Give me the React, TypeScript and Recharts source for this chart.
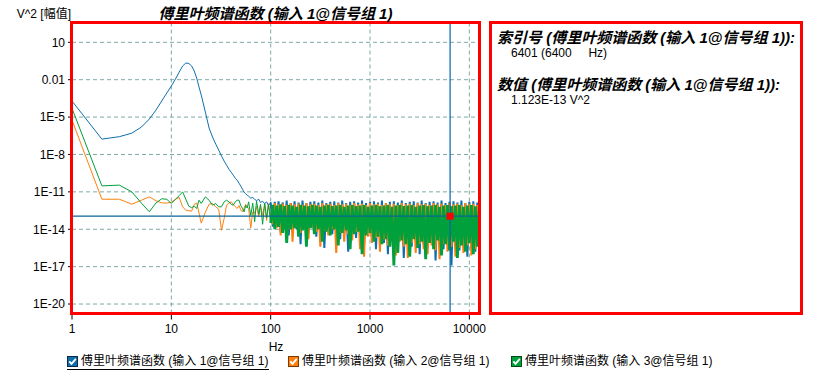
import { LineChart, Line, XAxis, YAxis, CartesianGrid, ReferenceLine, ReferenceDot } from 'recharts';

// every bin up to 20 Hz, then every other bin up to 58 Hz
const lowFreqs = [
  1, 2, 3, 4, 5, 6, 7, 8, 9, 10, 11, 12, 13, 14, 15, 16, 17, 18, 19, 20,
  22, 24, 26, 28, 30, 32, 34, 36, 38, 40, 42, 44, 46, 48, 50, 52, 54, 56, 58,
];

// noise floor, read off at roughly one sample per 2px
const noiseFreqs = [
  60, 63, 66, 69, 72, 76, 79, 83, 87, 91,
  95, 100, 105, 110, 115, 120, 126, 132, 138, 145,
  152, 159, 166, 174, 182, 191, 200, 209, 219, 229,
  240, 251, 263, 275, 288, 302, 316, 331, 347, 363,
  380, 398, 417, 437, 457, 479, 501, 525, 550, 575,
  603, 631, 661, 692, 724, 759, 794, 832, 871, 912,
  955, 1000, 1047, 1096, 1148, 1202, 1259, 1318, 1380, 1445,
  1514, 1585, 1660, 1738, 1820, 1905, 1995, 2089, 2188, 2291,
  2399, 2512, 2630, 2754, 2884, 3020, 3162, 3311, 3467, 3631,
  3802, 3981, 4169, 4365, 4571, 4786, 5012, 5248, 5495, 5754,
  6026, 6310, 6607, 6918, 7244, 7586, 7943, 8318, 8710, 9120,
  9550, 10000, 10471, 10965, 11482, 12023, 12589, 12800,
];

// log10 of the amplitude (V^2)
const input1Low = [
  -3.71, -6.77, -6.57, -6.29, -5.8, -5.16, -4.44, -3.71, -3.07, -2.51,
  -1.95, -1.39, -0.9, -0.66, -0.7, -0.9, -1.3, -1.87, -2.59, -3.23,
  -4.6, -5.88, -6.6, -7.17, -7.65, -8.13, -8.53, -8.86, -9.18, -9.42,
  -9.66, -9.9, -10.06, -10.3, -10.54, -10.78, -11.02, -11.14, -11.27,
];
const input2Low = [
  -5.24, -11.59, -11.59, -11.99, -11.67, -11.4, -11.71, -11.88, -11.9, -11.83,
  -11.59, -11.45, -12.2, -12.47, -12.51, -12.55, -12.0, -11.9, -12.71, -13.51,
  -12.63, -11.99, -11.93, -12.2, -12.4, -14.08, -13.14, -12.07, -11.9, -11.8,
  -12.0, -12.2, -12.33, -12.1, -12.45, -12.61, -12.3, -12.0, -12.2,
];
const input3Low = [
  -4.3, -10.52, -10.46, -11.0, -11.9, -12.6, -11.9, -11.55, -11.6, -11.93,
  -11.6, -11.3, -11.0, -11.6, -12.15, -12.27, -12.15, -12.33, -11.67, -11.93,
  -11.4, -11.67, -12.07, -11.93, -12.2, -12.2, -11.8, -11.67, -11.8, -12.0,
  -12.07, -11.8, -11.67, -11.67, -12.1, -12.33, -12.6, -12.1, -12.3,
];

const input1Noise = [
  -11.35, -11.5, -11.45, -11.6, -11.7, -11.6, -11.85, -11.75, -11.95, -11.8,
  -12.1, -11.85, -13.8, -11.8, -13.5, -11.75, -14.2, -11.85, -13.6, -11.7,
  -14.5, -11.9, -13.9, -11.75, -14.0, -11.85, -15.2, -11.7, -13.8, -11.9,
  -14.3, -11.8, -13.9, -11.75, -14.6, -11.85, -14.1, -11.7, -15.5, -11.9,
  -14.0, -11.8, -14.4, -11.75, -14.2, -11.85, -14.8, -11.7, -14.3, -11.9,
  -15.8, -11.8, -14.2, -11.75, -14.7, -11.85, -14.4, -11.7, -15.3, -11.9,
  -14.5, -11.8, -14.9, -11.75, -15.6, -11.85, -14.6, -11.7, -15.1, -11.9,
  -16.0, -11.8, -14.8, -11.75, -15.3, -11.85, -14.9, -11.7, -16.3, -11.9,
  -15.0, -11.8, -15.4, -11.75, -14.9, -11.85, -16.0, -11.7, -15.2, -11.9,
  -15.5, -11.8, -15.0, -11.75, -16.5, -11.85, -15.1, -11.7, -15.6, -11.9,
  -15.2, -11.8, -16.9, -11.75, -15.3, -11.85, -15.7, -11.7, -15.1, -11.9,
  -16.2, -11.8, -15.4, -11.75, -15.8, -11.85, -15.2, -11.8,
];
const input2Noise = [
  -12.3, -13.9, -12.6, -12.7, -12.2, -13.0, -12.1, -12.9, -12.0, -13.3,
  -11.95, -13.0, -13.6, -11.9, -13.9, -12.0, -14.5, -11.95, -13.7, -12.05,
  -14.0, -11.9, -15.0, -12.0, -13.8, -11.95, -14.3, -12.05, -14.0, -11.9,
  -14.8, -12.0, -13.9, -11.95, -14.2, -12.05, -15.4, -11.9, -14.1, -12.0,
  -14.5, -11.95, -14.0, -12.05, -15.9, -11.9, -14.3, -12.0, -15.0, -11.95,
  -14.4, -12.05, -14.9, -11.9, -14.2, -12.0, -15.6, -11.95, -16.2, -12.05,
  -14.6, -11.9, -15.1, -12.0, -14.7, -11.95, -15.8, -12.05, -14.8, -11.9,
  -15.3, -12.0, -14.9, -11.95, -16.1, -12.05, -15.0, -11.9, -15.4, -12.0,
  -16.3, -11.95, -15.1, -12.05, -15.9, -11.9, -15.2, -12.0, -15.6, -11.95,
  -16.0, -12.05, -15.3, -11.9, -15.7, -12.0, -16.4, -11.95, -15.2, -12.05,
  -15.8, -11.9, -15.4, -12.0, -16.2, -11.95, -15.5, -12.05, -15.9, -11.9,
  -15.3, -12.0, -16.1, -11.95, -15.6, -12.05, -16.0, -11.9,
];
const input3Noise = [
  -11.8, -12.9, -11.9, -13.4, -11.75, -12.8, -12.0, -13.6, -11.9, -13.1,
  -12.0, -13.5, -12.05, -14.0, -12.1, -13.8, -12.0, -14.3, -12.15, -15.1,
  -12.05, -14.0, -12.1, -13.9, -12.2, -14.6, -12.05, -14.1, -12.1, -15.4,
  -12.15, -13.9, -12.05, -14.4, -12.1, -14.0, -12.2, -15.0, -12.1, -14.2,
  -12.05, -14.5, -12.15, -14.0, -12.1, -15.3, -12.05, -14.3, -12.2, -14.1,
  -12.1, -15.6, -12.05, -14.4, -12.15, -14.2, -12.1, -16.0, -12.05, -14.5,
  -12.2, -14.3, -12.1, -15.0, -12.05, -14.6, -12.15, -15.2, -12.1, -14.8,
  -12.05, -15.4, -12.2, -16.9, -12.1, -15.9, -12.05, -14.9, -12.15, -15.2,
  -12.1, -16.2, -12.05, -14.8, -12.2, -15.5, -12.1, -15.0, -12.05, -16.4,
  -12.15, -15.1, -12.1, -15.6, -12.05, -14.9, -12.2, -16.1, -12.1, -15.2,
  -12.05, -15.7, -12.15, -15.0, -12.1, -16.3, -12.05, -15.3, -12.2, -15.8,
  -12.1, -15.1, -12.05, -16.0, -12.15, -15.4, -12.1, -15.9,
];

const seriesNames = [
  '傅里叶频谱函数 (输入 1@信号组 1)',
  '傅里叶频谱函数 (输入 2@信号组 1)',
  '傅里叶频谱函数 (输入 3@信号组 1)',
];
const seriesColors = ['#0f6fad', '#ff7f0e', '#00a03c'];
const boxBorders = ['#0a2a4a', '#7a3a00', '#004a1a'];

const xTicks = [1, 10, 100, 1000, 10000];
const yTicks = [10, 0.01, 1e-5, 1e-8, 1e-11, 1e-14, 1e-17, 1e-20];

const cursorIndex = 6401;
const cursorHz = 6400;
const cursorValue = 1.123e-13;

const freqs = [...lowFreqs, ...noiseFreqs];
const s1 = [...input1Low, ...input1Noise];
const s2 = [...input2Low, ...input2Noise];
const s3 = [...input3Low, ...input3Noise];
// above ~100 Hz the bins are too dense to see apart, so that part gets a heavier stroke
const dense = lowFreqs.length + 11;
const data = freqs.map((f, i) => ({
  f,
  a1: i <= dense ? 10 ** s1[i] : null,
  a2: i <= dense ? 10 ** s2[i] : null,
  a3: i <= dense ? 10 ** s3[i] : null,
  b1: i >= dense ? 10 ** s1[i] : null,
  b2: i >= dense ? 10 ** s2[i] : null,
  b3: i >= dense ? 10 ** s3[i] : null,
}));

const FONT = '"Liberation Sans", Arial, "Noto Sans CJK SC", sans-serif';

function formatY(v: number) {
  if (v >= 0.01) return String(v);
  return `1E${Math.round(Math.log10(v))}`;
}

function CheckBox({ color, border }: { color: string; border: string }) {
  return (
    <svg width={11} height={11} style={{ display: 'block', flex: 'none' }}>
      <rect x={0.5} y={0.5} width={10} height={10} fill={color} stroke={border} />
      <path d="M2.3 5.4 L4.5 7.9 L8.8 2.9" stroke="#fff" strokeWidth={1.8} fill="none" />
    </svg>
  );
}

const legendLeft = [67, 288, 511];

export default function App() {
  const cursorMark = (p: any) => (
    <rect x={p.cx - 3.5} y={p.cy - 3.5} width={7} height={7} fill="#ff0000" />
  );

  return (
    <div style={{ position: 'relative', width: 819, height: 378, fontFamily: FONT, color: '#000', background: '#fff' }}>
      <style>{'body{margin:0}'}</style>

      <LineChart width={819} height={378} data={data} margin={{ top: 22.5, right: 339, bottom: 34.5, left: 0 }}>
        <CartesianGrid stroke="#7fa8a8" strokeDasharray="4 3" />
        <XAxis
          dataKey="f"
          type="number"
          scale="log"
          domain={[1, 12800]}
          ticks={xTicks}
          interval={0}
          allowDataOverflow
          height={30}
          tickSize={6}
          tickMargin={5}
          axisLine={false}
          tickLine={{ stroke: '#000' }}
          tick={{ fontSize: 12, fill: '#000' }}
        />
        <YAxis
          type="number"
          scale="log"
          domain={[10 ** -20.76, 10 ** 2.59]}
          ticks={yTicks}
          interval={0}
          allowDataOverflow
          width={72}
          tickSize={4}
          tickMargin={3}
          axisLine={false}
          tickLine={{ stroke: '#000' }}
          tick={{ fontSize: 12, fill: '#000' }}
          tickFormatter={formatY}
        />
        <Line dataKey="a1" stroke={seriesColors[0]} strokeWidth={1} dot={false} activeDot={false} isAnimationActive={false} />
        <Line dataKey="b1" stroke={seriesColors[0]} strokeWidth={2} dot={false} activeDot={false} isAnimationActive={false} />
        <Line dataKey="a2" stroke={seriesColors[1]} strokeWidth={1} dot={false} activeDot={false} isAnimationActive={false} />
        <Line dataKey="b2" stroke={seriesColors[1]} strokeWidth={2} dot={false} activeDot={false} isAnimationActive={false} />
        <Line dataKey="a3" stroke={seriesColors[2]} strokeWidth={1} dot={false} activeDot={false} isAnimationActive={false} />
        <Line dataKey="b3" stroke={seriesColors[2]} strokeWidth={2.8} dot={false} activeDot={false} isAnimationActive={false} />
        <ReferenceLine x={cursorHz} stroke="#0066aa" strokeWidth={1.2} />
        <ReferenceLine y={cursorValue} stroke="#0a6496" strokeWidth={1.2} />
        <ReferenceDot x={cursorHz} y={cursorValue} shape={cursorMark} />
      </LineChart>

      {/* plot frame */}
      <div style={{ position: 'absolute', left: 70, top: 21, width: 411, height: 294, border: '3px solid #ff0000', boxSizing: 'border-box', pointerEvents: 'none' }} />

      <div style={{ position: 'absolute', left: 0, top: 6, width: 71, textAlign: 'right', fontSize: 12, lineHeight: '16px' }}>V^2 [幅值]</div>
      <div style={{ position: 'absolute', left: 0, top: 5, width: 551, textAlign: 'center', fontSize: 15, lineHeight: '18px', fontWeight: 'bold', fontStyle: 'italic' }}>
        {seriesNames[0]}
      </div>
      <div style={{ position: 'absolute', left: 72, top: 339, width: 408, textAlign: 'center', fontSize: 12, lineHeight: '16px' }}>Hz</div>

      {/* cursor readout */}
      <div style={{ position: 'absolute', left: 489, top: 21, width: 314, height: 294, border: '3px solid #ff0000', boxSizing: 'border-box' }}>
        <div style={{ position: 'absolute', left: 5, top: 5, fontSize: 15, lineHeight: '18px', fontWeight: 'bold', fontStyle: 'italic', whiteSpace: 'nowrap' }}>
          索引号 ({seriesNames[0]}):
        </div>
        <div style={{ position: 'absolute', left: 19, top: 21, fontSize: 12, lineHeight: '16px', whiteSpace: 'pre' }}>
          {`${cursorIndex} (${cursorHz}     Hz)`}
        </div>
        <div style={{ position: 'absolute', left: 5, top: 52, fontSize: 15, lineHeight: '18px', fontWeight: 'bold', fontStyle: 'italic', whiteSpace: 'nowrap' }}>
          数值 ({seriesNames[0]}):
        </div>
        <div style={{ position: 'absolute', left: 19, top: 68, fontSize: 12, lineHeight: '16px', whiteSpace: 'pre' }}>
          1.123E-13 V^2
        </div>
      </div>

      {seriesNames.map((name, i) => (
        <div
          key={name}
          style={{
            position: 'absolute',
            left: legendLeft[i],
            top: 354,
            display: 'flex',
            alignItems: 'center',
            gap: 3,
            fontSize: 12,
            lineHeight: '15px',
            whiteSpace: 'nowrap',
            borderBottom: i === 0 ? '1px solid #000' : '1px solid transparent',
          }}
        >
          <CheckBox color={seriesColors[i]} border={boxBorders[i]} />
          <span>{name}</span>
        </div>
      ))}
    </div>
  );
}
